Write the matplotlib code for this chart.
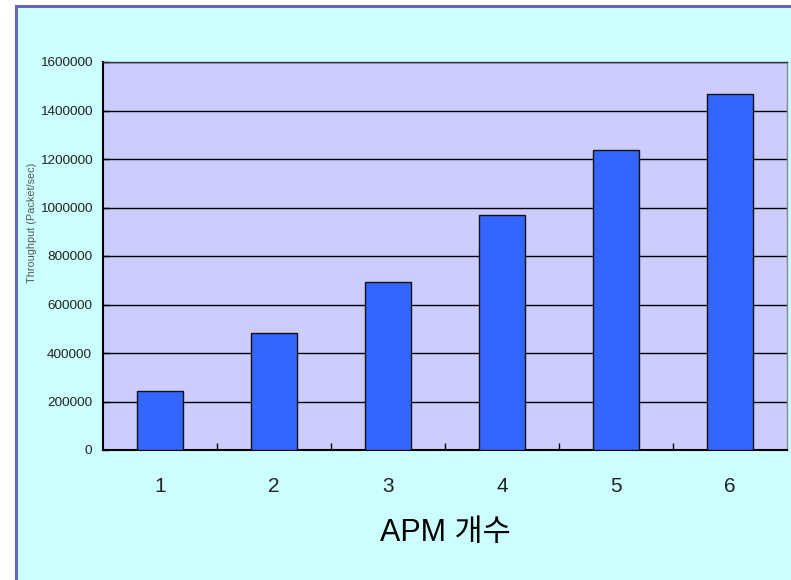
import numpy as np
import matplotlib
matplotlib.use('Agg')
from matplotlib import pyplot as plt
from matplotlib.patches import Rectangle

# throughput measured for 1..6 APMs
apm_counts = ['1', '2', '3', '4', '5', '6']
throughput = [244000, 484000, 694000, 968000, 1238000, 1469000]
y_ticks = np.arange(0, 1600001, 200000)

plt.rcParams['font.family'] = ['Liberation Sans', 'Noto Sans CJK KR', 'DejaVu Sans']

W, H = 791, 580
fig = plt.figure(figsize=(W / 100.0, H / 100.0), dpi=100, facecolor='white')

# chart area frame, kept behind the axes
frame = Rectangle((15.5 / W, -0.1), 1.2, 1.1 - 6.0 / H, transform=fig.transFigure,
                  facecolor='#CCFFFF', edgecolor='#6666BB', linewidth=2.2, zorder=-5,
                  clip_on=False)
fig.patches.append(frame)

ax = fig.add_axes([103.3 / W, 130.0 / H, 683.4 / W, 388.0 / H])
ax.set_zorder(2)
ax.set_facecolor('#CCCCFF')

x = np.arange(len(apm_counts))
ax.bar(x, throughput, width=0.40, color='#3366FF', edgecolor='#111111',
       linewidth=1.0, zorder=3)

ax.set_xlim(-0.5, len(apm_counts) - 0.5)
ax.set_ylim(0, 1600000)
ax.set_yticks(y_ticks)
ax.set_yticklabels(['%d' % v for v in y_ticks], fontsize=9.7, color='#222222')
ax.yaxis.grid(True, color='black', linewidth=1.0, zorder=1)
ax.set_axisbelow(True)
ax.tick_params(axis='y', direction='in', length=4, width=1, pad=8)

ax.set_xticks(x)
ax.set_xticklabels(apm_counts, fontsize=15, color='#222222')
ax.set_xticks(x[:-1] + 0.5, minor=True)
ax.tick_params(axis='x', which='major', length=0, pad=19.5)
ax.tick_params(axis='x', which='minor', direction='in', length=5, width=1)

for side in ['left', 'bottom']:
    ax.spines[side].set_color('black')
    ax.spines[side].set_linewidth(1.5)
ax.spines['top'].set_color('#333333')
ax.spines['top'].set_linewidth(1.0)
ax.spines['right'].set_color('#888888')
ax.spines['right'].set_linewidth(1.0)

ax.set_xlabel('APM 개수', fontsize=22, color='black', labelpad=16)
fig.text(32.0 / W, 1 - 222.5 / H, 'Throughput (Packet/sec)', rotation=90,
         fontsize=7.8, color='#555555', ha='center', va='center')

fig.savefig('out.png', dpi=100, facecolor=fig.get_facecolor())
